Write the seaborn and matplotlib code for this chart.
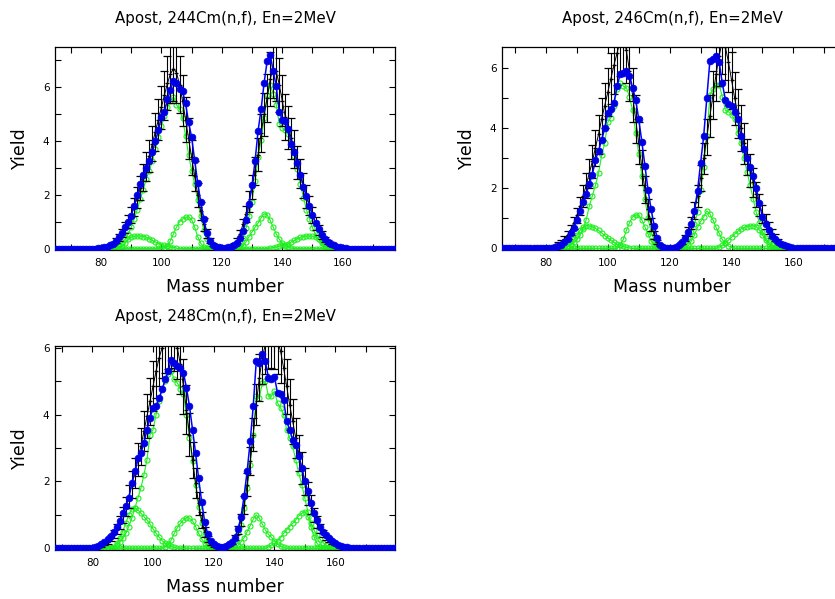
import numpy as np
import matplotlib
matplotlib.use('Agg')
import matplotlib.pyplot as plt
from matplotlib.ticker import MultipleLocator
import seaborn as sns

# ---- data (yield vs mass number) ----
# each series: (first mass, values); everything outside is zero

titles = ['Apost, 244Cm(n,f), En=2MeV',
          'Apost, 246Cm(n,f), En=2MeV',
          'Apost, 248Cm(n,f), En=2MeV']

# 244Cm
cm244_exp = (79, [0.02, 0.03, 0.05, 0.08, 0.13, 0.2, 0.3, 0.42, 0.58, 0.78,
                  1.0, 1.25, 1.55, 1.9, 2.25, 2.65, 3.05, 3.45, 3.9, 4.35,
                  4.8, 5.25, 5.7, 6.15, 6.5, 6.7, 6.55, 6.1, 5.5, 4.8,
                  4.1, 3.4, 2.7, 2.0, 1.4, 0.9, 0.55, 0.3, 0.15, 0.08,
                  0.04, 0.03, 0.03, 0.05, 0.08, 0.15, 0.3, 0.55, 0.9, 1.3,
                  1.75, 2.3, 2.9, 3.5, 4.3, 5.0, 5.6, 6.3, 6.7, 6.6,
                  6.1, 5.5, 4.9, 4.5, 4.1, 3.7, 3.2, 2.8, 2.35, 1.95,
                  1.6, 1.25, 0.95, 0.7, 0.5, 0.35, 0.24, 0.16, 0.1, 0.06,
                  0.04, 0.02])
cm244_err = (79, [0.01, 0.01, 0.02, 0.03, 0.04, 0.06, 0.09, 0.12, 0.15, 0.2,
                  0.25, 0.3, 0.35, 0.4, 0.45, 0.5, 0.55, 0.6, 0.65, 0.7,
                  0.75, 0.8, 0.9, 1.0, 1.1, 1.2, 1.15, 1.05, 0.95, 0.85,
                  0.75, 0.65, 0.55, 0.45, 0.35, 0.25, 0.17, 0.1, 0.05, 0.03,
                  0.02, 0.01, 0.01, 0.02, 0.03, 0.05, 0.09, 0.15, 0.22, 0.3,
                  0.38, 0.45, 0.52, 0.6, 0.7, 0.8, 0.9, 1.0, 1.1, 1.1,
                  1.0, 0.95, 0.85, 0.8, 0.75, 0.7, 0.62, 0.55, 0.48, 0.42,
                  0.35, 0.3, 0.24, 0.18, 0.14, 0.1, 0.07, 0.05, 0.03, 0.02,
                  0.01, 0.01])
cm244_calc = (79, [0.01, 0.03, 0.05, 0.08, 0.13, 0.19, 0.28, 0.42, 0.6, 0.8,
                   1.0, 1.23, 1.6, 2.0, 2.4, 2.75, 3.0, 3.25, 3.6, 4.0,
                   4.4, 4.9, 5.1, 5.55, 5.9, 6.25, 6.15, 5.95, 5.85, 5.4,
                   4.7, 4.15, 3.3, 2.45, 1.75, 1.1, 0.6, 0.3, 0.15, 0.08,
                   0.05, 0.04, 0.04, 0.05, 0.07, 0.12, 0.22, 0.4, 0.65, 1.07,
                   1.67, 2.35, 3.27, 4.38, 5.19, 6.17, 6.98, 7.22, 6.6, 6.05,
                   5.1, 4.8, 4.75, 4.45, 3.9, 3.6, 3.2, 2.75, 2.3, 1.95,
                   1.6, 1.25, 0.95, 0.72, 0.52, 0.37, 0.26, 0.18, 0.12, 0.08,
                   0.05, 0.03, 0.02])
cm244_main = [(83, [0.03, 0.05, 0.1, 0.15, 0.22, 0.35, 0.55, 0.8, 1.1, 1.45,
                    1.85, 2.2, 2.6, 2.9, 3.25, 3.7, 4.15, 4.55, 4.95, 5.25,
                    5.5, 5.65, 5.35, 5.2, 4.85, 4.2, 3.5, 2.9, 2.4, 1.8,
                    1.2, 0.7, 0.35, 0.15, 0.07, 0.03, 0.01]),
              (122, [0.01, 0.02, 0.05, 0.1, 0.2, 0.4, 0.75, 1.2,
                     1.75, 2.5, 3.4, 4.05, 4.85, 5.7, 6.1, 5.75, 5.35, 4.65,
                     4.5, 4.4, 4.25, 3.85, 3.45, 2.95, 2.4, 1.9, 1.45, 1.1,
                     0.78, 0.52, 0.35, 0.25, 0.18, 0.12, 0.08, 0.05, 0.03, 0.01])]
cm244_s1 = [(101, [0.04, 0.1, 0.3, 0.55, 0.8, 1.0, 1.1, 1.17, 1.18, 1.08,
                   0.8, 0.45, 0.2, 0.08, 0.03, 0.01]),
            (125, [0.02, 0.05, 0.1, 0.25, 0.45, 0.62, 0.8, 0.95, 1.15, 1.3,
                   1.25, 1.05, 0.8, 0.55, 0.35, 0.2, 0.1, 0.05, 0.02])]
cm244_s3 = [(86, [0.03, 0.08, 0.2, 0.35, 0.43, 0.46, 0.47, 0.47, 0.45, 0.42,
                  0.37, 0.31, 0.25, 0.19, 0.15, 0.12, 0.09, 0.06, 0.04, 0.02]),
            (136, [0.02, 0.04, 0.06, 0.09, 0.12, 0.15, 0.19, 0.25, 0.31, 0.37,
                   0.42, 0.45, 0.47, 0.47, 0.46, 0.43, 0.35, 0.2, 0.08, 0.03])]

# 246Cm
cm246_exp = (80, [0.02, 0.04, 0.06, 0.1, 0.15, 0.22, 0.32, 0.45, 0.62, 0.85,
                  1.1, 1.4, 1.75, 2.1, 2.5, 2.9, 3.35, 3.8, 4.3, 4.75,
                  5.2, 5.65, 6.1, 6.5, 6.9, 7.0, 6.6, 5.9, 5.1, 4.3,
                  3.5, 2.7, 1.95, 1.3, 0.8, 0.45, 0.22, 0.1, 0.05, 0.03,
                  0.02, 0.03, 0.05, 0.1, 0.2, 0.35, 0.55, 0.85, 1.25, 1.75,
                  2.35, 3.0, 3.7, 4.4, 5.1, 5.8, 6.4, 6.9, 6.7, 6.2,
                  5.6, 5.0, 4.5, 4.0, 3.5, 3.05, 2.6, 2.2, 1.8, 1.45,
                  1.15, 0.9, 0.68, 0.5, 0.36, 0.25, 0.17, 0.11, 0.07, 0.05,
                  0.03, 0.02])
cm246_err = (80, [0.01, 0.01, 0.02, 0.03, 0.05, 0.07, 0.09, 0.12, 0.16, 0.2,
                  0.25, 0.3, 0.36, 0.42, 0.48, 0.54, 0.6, 0.65, 0.7, 0.75,
                  0.8, 0.85, 0.95, 1.05, 1.15, 1.2, 1.1, 1.0, 0.9, 0.8,
                  0.7, 0.58, 0.45, 0.33, 0.22, 0.13, 0.07, 0.03, 0.02, 0.01,
                  0.01, 0.01, 0.02, 0.03, 0.06, 0.1, 0.15, 0.21, 0.28, 0.36,
                  0.44, 0.52, 0.6, 0.7, 0.8, 0.9, 1.0, 1.1, 1.1, 1.0,
                  0.95, 0.88, 0.82, 0.76, 0.68, 0.6, 0.54, 0.48, 0.42, 0.36,
                  0.3, 0.25, 0.2, 0.15, 0.11, 0.08, 0.05, 0.03, 0.02, 0.01,
                  0.01, 0.01])
cm246_calc = (82, [0.02, 0.04, 0.07, 0.12, 0.2, 0.32, 0.5, 0.68,
                   0.95, 1.25, 1.55, 1.8, 2.15, 2.45, 2.95, 3.25, 3.6, 4.0,
                   4.5, 4.65, 4.85, 5.4, 5.8, 5.85, 5.9, 5.75, 5.35, 4.95,
                   4.3, 3.55, 2.75, 1.95, 1.3, 0.75, 0.35, 0.13, 0.06, 0.03,
                   0.02, 0.02, 0.04, 0.1, 0.2, 0.35, 0.55, 0.82, 1.26, 1.92,
                   2.85, 3.75, 5.0, 6.25, 6.3, 6.4, 6.2, 5.5, 4.95, 4.8,
                   4.75, 4.55, 4.3, 3.75, 3.3, 3.0, 2.7, 2.4, 2.0, 1.5,
                   1.05, 0.8, 0.6, 0.42, 0.3, 0.22, 0.15, 0.1, 0.07, 0.05,
                   0.03, 0.02])
cm246_main = [(86, [0.05, 0.08, 0.12, 0.2, 0.3, 0.45, 0.65, 0.95, 1.4, 1.75,
                    2.1, 2.5, 3.1, 3.5, 4.2, 4.35, 4.75, 5.3, 5.5, 5.4,
                    5.35, 5.05, 4.6, 3.85, 3.15, 2.4, 1.65, 1.0, 0.55, 0.28,
                    0.12, 0.05, 0.02]),
              (124, [0.1, 0.2, 0.35, 0.55, 0.8, 1.2, 1.95, 2.7, 3.75, 5.1,
                     5.3, 5.45, 5.45, 5.05, 4.6, 4.55, 4.45, 4.3, 3.85, 3.5,
                     3.0, 2.55, 2.1, 1.65, 1.2, 0.85, 0.55, 0.35, 0.2, 0.1,
                     0.05, 0.02])]
cm246_s1 = [(104, [0.12, 0.3, 0.6, 0.85, 1.05, 1.12, 1.1, 0.95, 0.72, 0.48,
                   0.25, 0.1, 0.04]),
            (126, [0.1, 0.25, 0.45, 0.7, 0.9, 1.05, 1.25, 1.15, 0.95, 0.7,
                   0.5, 0.3, 0.17, 0.08, 0.03])]
cm246_s3 = [(87, [0.05, 0.15, 0.3, 0.45, 0.6, 0.7, 0.76, 0.75, 0.72, 0.67,
                  0.6, 0.52, 0.43, 0.35, 0.27, 0.2, 0.14, 0.1, 0.07, 0.04, 0.02]),
            (136, [0.05, 0.1, 0.18, 0.28, 0.38, 0.48, 0.57, 0.65, 0.7, 0.73,
                   0.75, 0.76, 0.73, 0.62, 0.45, 0.28, 0.14, 0.06, 0.02])]

# 248Cm
cm248_exp = (80, [0.02, 0.03, 0.05, 0.08, 0.13, 0.2, 0.3, 0.42, 0.58, 0.78,
                  1.0, 1.25, 1.55, 1.9, 2.25, 2.65, 3.05, 3.5, 3.95, 4.4,
                  4.85, 5.3, 5.7, 6.0, 6.2, 6.35, 6.4, 6.3, 6.0, 5.5,
                  4.85, 4.15, 3.4, 2.65, 1.95, 1.35, 0.85, 0.5, 0.27, 0.14,
                  0.07, 0.04, 0.03, 0.03, 0.05, 0.1, 0.18, 0.32, 0.55, 0.85,
                  1.3, 1.9, 2.6, 3.4, 4.3, 5.1, 5.7, 6.1, 6.3, 6.4,
                  6.35, 6.2, 5.9, 5.4, 4.85, 4.3, 3.8, 3.3, 2.85, 2.4,
                  2.0, 1.65, 1.3, 1.0, 0.78, 0.6, 0.45, 0.33, 0.24, 0.17,
                  0.12, 0.08, 0.05, 0.03, 0.02])
cm248_err = (80, [0.01, 0.01, 0.02, 0.03, 0.04, 0.06, 0.09, 0.12, 0.15, 0.2,
                  0.24, 0.29, 0.34, 0.4, 0.45, 0.5, 0.55, 0.6, 0.65, 0.7,
                  0.75, 0.8, 0.85, 0.9, 0.95, 1.0, 1.0, 1.0, 0.95, 0.9,
                  0.82, 0.74, 0.64, 0.54, 0.44, 0.34, 0.24, 0.15, 0.09, 0.05,
                  0.03, 0.02, 0.01, 0.01, 0.02, 0.03, 0.05, 0.08, 0.13, 0.19,
                  0.26, 0.34, 0.42, 0.5, 0.6, 0.7, 0.8, 0.9, 0.95, 1.0,
                  1.0, 1.0, 0.95, 0.9, 0.82, 0.75, 0.68, 0.6, 0.54, 0.47,
                  0.4, 0.34, 0.28, 0.22, 0.18, 0.14, 0.11, 0.08, 0.06, 0.04,
                  0.03, 0.02, 0.01, 0.01, 0.01])
cm248_calc = (80, [0.02, 0.04, 0.08, 0.13, 0.2, 0.28, 0.38, 0.5, 0.65, 0.82,
                   1.07, 1.27, 1.5, 1.96, 2.3, 2.7, 2.85, 3.15, 3.55, 3.9,
                   4.2, 4.25, 4.5, 4.75, 5.05, 5.3, 5.63, 5.55, 5.45, 5.4,
                   5.25, 4.8, 4.25, 3.55, 2.85, 2.1, 1.4, 0.8, 0.43, 0.23,
                   0.12, 0.07, 0.05, 0.04, 0.06, 0.12, 0.2, 0.3, 0.58, 0.95,
                   1.57, 2.31, 3.2, 4.25, 5.6, 5.55, 5.8, 5.6, 5.1, 5.07,
                   5.12, 4.65, 4.6, 4.45, 3.8, 3.55, 3.25, 3.1, 2.75, 2.4,
                   2.0, 1.7, 1.35, 1.05, 0.85, 0.65, 0.5, 0.4, 0.3, 0.22,
                   0.16, 0.11, 0.08, 0.05, 0.03, 0.02])
cm248_main = [(88, [0.1, 0.18, 0.3, 0.45, 0.65, 0.9, 1.2, 1.5, 1.8, 2.2,
                    2.65, 3.4, 3.55, 4.0, 4.4, 4.75, 5.0, 5.2, 5.3, 5.05,
                    4.95, 4.75, 4.6, 4.0, 3.3, 2.6, 1.9, 1.25, 0.75, 0.4,
                    0.2, 0.1, 0.05]),
              (126, [0.1, 0.23, 0.45, 0.7, 1.2, 1.8, 2.5, 3.4, 4.55, 4.5,
                     4.95, 5.0, 4.55, 4.55, 4.7, 4.35, 4.2, 4.0, 3.55, 3.3,
                     3.05, 2.65, 2.25, 1.9, 1.5, 1.1, 0.75, 0.55, 0.4, 0.27,
                     0.17, 0.1, 0.05, 0.02])]
cm248_s1 = [(104, [0.05, 0.12, 0.25, 0.45, 0.62, 0.75, 0.85, 0.92, 0.9, 0.82,
                   0.65, 0.45, 0.28, 0.15, 0.07, 0.03]),
            (128, [0.1, 0.2, 0.32, 0.5, 0.68, 0.87, 1.0, 0.9, 0.72, 0.55,
                   0.42, 0.33, 0.22, 0.12, 0.06, 0.03])]
cm248_s3 = [(87, [0.05, 0.15, 0.3, 0.5, 0.75, 1.0, 1.17, 1.22, 1.15, 1.05,
                  0.95, 0.85, 0.72, 0.58, 0.45, 0.33, 0.23, 0.15, 0.1, 0.06, 0.03]),
            (138, [0.05, 0.1, 0.15, 0.22, 0.32, 0.45, 0.55, 0.65, 0.75, 0.85,
                   0.97, 1.05, 1.1, 0.95, 0.65, 0.35, 0.15, 0.05])]

panels = [
    dict(title=titles[0], exp=cm244_exp, err=cm244_err, calc=cm244_calc,
         modes=[cm244_main, cm244_s1, cm244_s3],
         exp_range=(66, 171), calc_range=(65, 177),
         xlim=(64.8, 177.3), ylim=(-0.05, 7.5),
         rect=[55, 47, 340, 203]),
    dict(title=titles[1], exp=cm246_exp, err=cm246_err, calc=cm246_calc,
         modes=[cm246_main, cm246_s1, cm246_s3],
         exp_range=(66, 168), calc_range=(65, 177),
         xlim=(65.8, 175.7), ylim=(-0.05, 6.7),
         rect=[502, 47, 340, 203]),
    dict(title=titles[2], exp=cm248_exp, err=cm248_err, calc=cm248_calc,
         modes=[cm248_main, cm248_s1, cm248_s3],
         exp_range=(68, 173), calc_range=(68, 180),
         xlim=(67.7, 179.7), ylim=(-0.05, 6.05),
         rect=[55, 346, 340, 204]),
]


def on_grid(lo, hi, parts):
    mass = np.arange(lo, hi + 1)
    y = np.zeros(mass.size)
    for start, vals in parts:
        y[start - lo:start - lo + len(vals)] = vals
    return mass, y


W, H = 835, 599
GREEN = '#1ef01e'
BLUE = '#0000ff'

sns.set_theme(style='ticks')
plt.rcParams['font.family'] = ['DejaVu Sans']
plt.rcParams['text.color'] = 'black'
plt.rcParams['axes.labelcolor'] = 'black'

fig = plt.figure(figsize=(W / 100, H / 100), dpi=100)

for p in panels:
    left, top, w, h = p['rect']
    ax = fig.add_axes([left / W, (H - top - h) / H, w / W, h / H])

    # component modes (green open circles)
    for parts in p['modes']:
        m, y = on_grid(*p['calc_range'], parts)
        sns.lineplot(x=m, y=y, ax=ax, color=GREEN, lw=0.8, marker='o', markersize=3.6,
                     markerfacecolor='none', markeredgecolor=GREEN, markeredgewidth=0.8,
                     errorbar=None, legend=False, zorder=2)

    # experimental data with error bars
    m, y = on_grid(*p['exp_range'], [p['exp']])
    _, e = on_grid(*p['exp_range'], [p['err']])
    ax.errorbar(m, y, yerr=e, color='black', lw=0.7, elinewidth=0.8,
                capsize=3, capthick=0.8, marker='+', ms=3.5, mew=0.9, zorder=3)

    # calculated total (blue dots)
    m, y = on_grid(*p['calc_range'], [p['calc']])
    sns.lineplot(x=m, y=y, ax=ax, color=BLUE, lw=1.1, marker='o', markersize=4.8,
                 markerfacecolor='#0000dd', markeredgecolor=BLUE, markeredgewidth=0.6,
                 errorbar=None, legend=False, zorder=4)

    ax.set_xlim(*p['xlim'])
    ax.set_ylim(*p['ylim'])
    ax.xaxis.set_major_locator(MultipleLocator(20))
    ax.xaxis.set_minor_locator(MultipleLocator(10))
    ax.yaxis.set_major_locator(MultipleLocator(2))
    ax.yaxis.set_minor_locator(MultipleLocator(1))
    ax.tick_params(which='both', direction='in', top=True, right=True,
                   length=4, width=0.8, labelsize=7.5, colors='black')
    ax.tick_params(axis='x', pad=6)
    ax.tick_params(axis='y', pad=4)
    for s in ax.spines.values():
        s.set_linewidth(0.9)
        s.set_color('black')

    ax.set_title(p['title'], y=1 + 29 / h, pad=0, va='center', fontsize=10.8)
    ax.set_xlabel('Mass number', fontsize=12.5)
    ax.set_ylabel('Yield', fontsize=12.5)
    ax.xaxis.set_label_coords(0.5, -37 / h)
    ax.xaxis.label.set_va('center')
    ax.yaxis.set_label_coords(-35 / w, 0.5)
    ax.yaxis.label.set_va('center')
    ax.yaxis.label.set_ha('center')

fig.savefig('out.png', dpi=100)
